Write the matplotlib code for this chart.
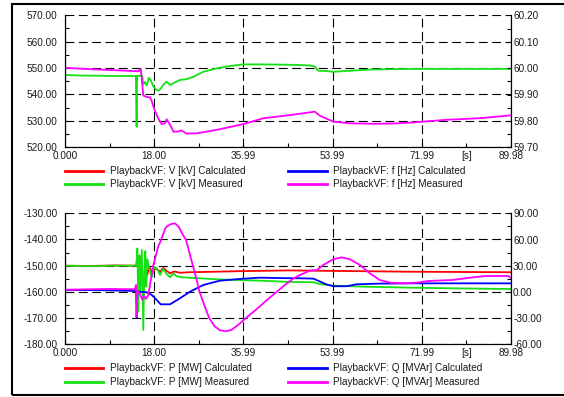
import numpy as np
import matplotlib.pyplot as plt
from matplotlib.lines import Line2D
from matplotlib.patches import Rectangle

plt.rcParams['font.family'] = ['Liberation Sans', 'DejaVu Sans']
plt.rcParams['font.size'] = 7.2

# --- czas [s] i przebiegi z odtwarzania (PlaybackVF) ---
# napiecie zmierzone V [kV]
t_v_meas = [0, 3, 7, 10, 14.3, 14.45, 14.55, 14.7, 15.6, 15.8, 16.1, 16.5, 16.9,
            17.3, 17.8, 18.3, 18.8, 19.3, 19.8, 20.5, 21.2, 22.2, 23.2, 24.5, 25.9,
            27.9, 30.6, 33.3, 36.0, 40.0, 44.1, 47.0, 49.4, 50.4, 51.1, 52.5, 54.1,
            57.5, 62.0, 70.0, 80.0, 89.98]
v_meas = [547.4, 547.2, 547.1, 547.0, 547.0, 527.8, 547.0, 547.1, 547.0, 543.8,
          544.8, 543.4, 546.3, 545.5, 543.2, 542.0, 541.4, 542.2, 543.6, 544.9,
          543.6, 544.6, 545.5, 545.8, 546.7, 548.6, 549.9, 550.8, 551.4, 551.4,
          551.3, 551.2, 551.0, 550.6, 549.0, 548.9, 548.6, 549.0, 549.5, 549.7,
          549.7, 549.7]

# czestotliwosc zmierzona f [Hz]
t_f_meas = [0, 5, 10, 14.9, 15.1, 15.3, 15.8, 16.6, 17.15, 17.5, 18.0, 18.8, 19.5,
            20.2, 20.5, 21.2, 21.9, 22.9, 23.5, 24.5, 26.6, 30.6, 36.0, 40.0, 45.4,
            50.4, 51.4, 54.1, 57.5, 62.0, 66.0, 70.1, 76.8, 83.5, 89.98]
f_meas = [60.001, 59.996, 59.992, 59.988, 59.996, 59.995, 59.896, 59.890, 59.889,
          59.875, 59.845, 59.810, 59.788, 59.791, 59.806, 59.785, 59.759, 59.760,
          59.764, 59.752, 59.753, 59.766, 59.788, 59.810, 59.822, 59.835, 59.820,
          59.797, 59.791, 59.789, 59.790, 59.794, 59.804, 59.810, 59.821]

# moc czynna obliczona P [MW]
t_p_calc = [0, 5, 10, 14.4, 14.6, 14.9, 15.2, 15.5, 15.9, 16.2, 16.6, 17.0, 17.6,
            18.3, 19.2, 19.8, 20.5, 21.2, 22.0, 23.2, 25, 30, 35, 45, 55, 70, 80, 89.98]
p_calc = [-150.0, -150.1, -149.9, -150.0, -146.0, -156.0, -147.0, -152.5, -160.0,
          -149.0, -153.5, -150.5, -152.5, -151.0, -152.3, -150.8, -152.0, -152.9,
          -152.2, -152.7, -152.5, -152.3, -152.1, -151.8, -152.0, -152.3, -152.4, -152.5]

# moc czynna zmierzona P [MW]
t_p_meas = [0, 5, 10, 14.4, 14.6, 14.8, 15.0, 15.2, 15.5, 15.8, 16.0, 16.2, 16.4,
            16.6, 16.9, 17.5, 18.0, 18.5, 19.2, 19.8, 20.5, 21.2, 21.9, 22.5, 23.5,
            25, 27.2, 30.6, 34, 40.7, 45.4, 50.1, 51.4, 54.1, 60.2, 70.2, 76.9, 89.98]
p_meas = [-150.0, -150.2, -150.0, -150.0, -143.4, -167.5, -146.0, -160.0, -144.0,
          -174.5, -152.0, -144.5, -158.0, -147.5, -150.5, -154.4, -150.6, -151.0,
          -153.5, -151.2, -153.2, -154.4, -152.9, -154.0, -154.4, -154.6, -154.8,
          -155.2, -155.4, -155.8, -156.2, -156.3, -157.0, -157.6, -158.0, -158.4,
          -158.6, -158.9]

# moc bierna obliczona Q [MVAr]
t_q_calc = [0, 7, 13.8, 14.35, 14.46, 14.6, 16.5, 17.5, 18.5, 19.3, 21.2, 23.2,
            25.2, 27.9, 31.2, 35.2, 39.3, 43.3, 47.4, 50.1, 51.4, 52.8, 54.1, 56.8,
            58.8, 63.5, 70.2, 89.98]
q_calc = [2.2, 2.0, 1.1, 0.8, -29.5, 0.3, -0.5, -3.5, -9.2, -14.2, -14.2, -7.3,
          0.2, 7.9, 12.8, 14.8, 16.3, 15.8, 15.6, 15.2, 12.0, 8.5, 6.5, 6.5, 8.7,
          9.5, 9.8, 9.8]

# moc bierna zmierzona Q [MVAr]
t_q_meas = [0, 5, 9, 14.1, 14.35, 14.46, 14.6, 15.1, 15.6, 15.9, 16.3, 16.8, 17.2,
            17.8, 18.8, 19.2, 20.2, 20.5, 21.3, 22.2, 23.0, 23.7, 24.4, 25.1, 25.8,
            26.5, 27.15, 28.1, 29.1, 30.2, 31.3, 32.5, 33.6, 35.0, 36.5, 38.5, 40.5,
            42.7, 44.5, 46.0, 47.4, 49.4, 50.8, 52.1, 54.1, 55.8, 57.5, 59.5, 61.5,
            63.5, 65.6, 68.3, 71.0, 73.3, 78.3, 82.3, 85.0, 89.5, 89.98]
q_meas = [2.5, 3.0, 3.4, 3.0, 8.0, -28.4, 1.0, -2.0, -9.0, -4.0, -8.0, -4.0, 10.0,
          30.0, 52.0, 57.0, 72.0, 74.7, 77.5, 78.5, 74.0, 66.0, 60.0, 45.0, 30.0,
          15.0, 0.0, -15.0, -30.0, -39.5, -44.0, -45.0, -43.5, -37.5, -30.0, -20.5,
          -10.5, 0.0, 8.5, 15.0, 19.4, 24.3, 25.0, 30.8, 37.3, 39.6, 37.3, 30.8,
          21.3, 13.6, 10.6, 9.8, 10.6, 12.5, 13.7, 16.7, 18.2, 18.2, 16.0]

# osie
x_major = [0, 18.0, 35.99, 53.99, 71.99, 89.98]
x_labels = ['0.000', '18.00', '35.99', '53.99', '71.99', '89.98']
x_minor = [9.0, 27.0, 44.99, 62.99, 80.98]
x_minor_labels = ['', '', '', '', '[s]']

RED, GREEN, BLUE, MAGENTA = '#ff0000', '#14e014', '#0000ff', '#ff00ff'
TXT = '#1a1a1a'
LW = 1.3


def style(ax, axr, yl, yl_minor, yr, yr_minor):
    ax.set_xlim(0, 89.98)
    ax.set_xticks(x_major, x_labels)
    ax.set_xticks(x_minor, x_minor_labels, minor=True)
    ax.set_ylim(yl[-1], yl[0])
    ax.set_yticks(yl, [f'{v:.2f}' for v in yl])
    ax.set_yticks(yl_minor, minor=True)
    axr.set_ylim(yr[-1], yr[0])
    axr.set_yticks(yr, [f'{v:.2f}' for v in yr])
    axr.set_yticks(yr_minor, minor=True)
    ax.grid(True, which='major', color='black', linestyle=(0, (8, 4)), linewidth=0.8)
    ax.tick_params(axis='x', which='both', direction='in', labelsize=7.2,
                   labelcolor=TXT, pad=3, length=3, width=0.8)
    ax.tick_params(axis='y', which='both', direction='in', labelsize=7.2,
                   labelcolor=TXT, pad=5.5, length=3, width=0.8)
    axr.tick_params(axis='y', which='both', direction='in', labelsize=7.2,
                    labelcolor=TXT, pad=1.5, length=3, width=0.8)
    for a in (ax, axr):
        a.spines['top'].set_visible(False)
        for s in ('left', 'right', 'bottom'):
            a.spines[s].set_linewidth(0.8)
            a.spines[s].set_color('black')


key_cols = [(0.0, 0.0852, 0.1009), (0.5, 0.5874, 0.601)]


def draw_key(ax, colors, labels, rows):
    for i, (c, lab) in enumerate(zip(colors, labels)):
        x0, x1, xt = key_cols[i // 2]
        y = rows[i % 2]
        ax.add_line(Line2D([x0, x1], [y, y], transform=ax.transAxes, color=c,
                           lw=2.0, clip_on=False))
        ax.text(xt, y, lab, transform=ax.transAxes, va='center', ha='left',
                fontsize=7.2, color=TXT)


fig = plt.figure(figsize=(5.64, 3.97), dpi=100)

# ramka wokol calego rysunku
fig.add_artist(Rectangle((12 / 564, 2 / 397), 1.0, 391 / 397, transform=fig.transFigure,
                         fill=False, edgecolor='black', linewidth=1.5, clip_on=False))

# --- wykres gorny: V i f ---
ax1 = fig.add_axes([65 / 564, 1 - 147.3 / 397, 446 / 564, 132 / 397])
ax1r = ax1.twinx()
ax1.plot(t_v_meas, v_meas, color=GREEN, lw=LW)
ax1r.plot(t_f_meas, f_meas, color=MAGENTA, lw=LW)
style(ax1, ax1r,
      [570, 560, 550, 540, 530, 520], [565, 555, 545, 535, 525],
      [60.20, 60.10, 60.00, 59.90, 59.80, 59.70], [60.15, 60.05, 59.95, 59.85, 59.75])
draw_key(ax1, [RED, GREEN, BLUE, MAGENTA],
         ['PlaybackVF: V [kV] Calculated', 'PlaybackVF: V [kV] Measured',
          'PlaybackVF: f [Hz] Calculated', 'PlaybackVF: f [Hz] Measured'],
         [-0.1795, -0.278])

# --- wykres dolny: P i Q ---
ax2 = fig.add_axes([65 / 564, 1 - 344.3 / 397, 446 / 564, 131 / 397])
ax2r = ax2.twinx()
ax2.plot(t_p_calc, p_calc, color=RED, lw=LW)
ax2.plot(t_p_meas, p_meas, color=GREEN, lw=LW)
ax2r.plot(t_q_calc, q_calc, color=BLUE, lw=LW)
ax2r.plot(t_q_meas, q_meas, color=MAGENTA, lw=LW)
style(ax2, ax2r,
      [-130, -140, -150, -160, -170, -180], [-135, -145, -155, -165, -175],
      [90, 60, 30, 0, -30, -60], [75, 45, 15, -15, -45])
draw_key(ax2, [RED, GREEN, BLUE, MAGENTA],
         ['PlaybackVF: P [MW] Calculated', 'PlaybackVF: P [MW] Measured',
          'PlaybackVF: Q [MVAr] Calculated', 'PlaybackVF: Q [MVAr] Measured'],
         [-0.1786, -0.29])

fig.savefig('out.png', dpi=100)
